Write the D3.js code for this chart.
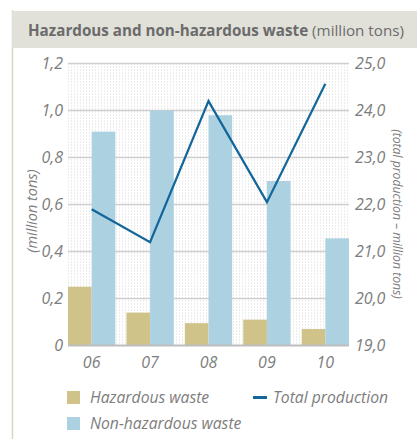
<!DOCTYPE html>
<title>waste chart</title>
<style>
body { margin: 0; background: #fff; }
text { font-family: "Open Sans", sans-serif; }
</style>
<svg width="417" height="439"></svg>
<script src="https://d3js.org/d3.v7.min.js"></script>
<script>
var years = ["06", "07", "08", "09", "10"];
var hazardous = [0.25, 0.14, 0.095, 0.11, 0.07];
var nonHazardous = [0.91, 1.0, 0.98, 0.70, 0.456];
var totalProduction = [21.9, 21.2, 24.2, 22.05, 24.57];
var leftTicks = [0, 0.2, 0.4, 0.6, 0.8, 1.0, 1.2];
var rightTicks = [19, 20, 21, 22, 23, 24, 25];

var svg = d3.select("svg"),
    margin = {top: 63.5, left: 68, right: 68, bottom: 93.5},
    width = 417 - margin.left - margin.right,
    height = 439 - margin.top - margin.bottom;

var grey = "#7d7d7d",
    hazColor = "#cfc389",
    nonColor = "#acd1e1",
    lineColor = "#12669a";

// header
svg.append("line")
    .attr("x1", 12.5).attr("x2", 12.5).attr("y1", 10).attr("y2", 439)
    .attr("stroke", "#d6d6c8").attr("stroke-width", 1.5);
svg.append("rect")
    .attr("x", 12).attr("y", 11).attr("width", 405).attr("height", 37)
    .attr("fill", "#e1e1da");
var title = svg.append("text")
    .attr("x", 28).attr("y", 36)
    .attr("font-size", 15.2)
    .attr("fill", "#6b6b6b");
title.append("tspan").attr("font-weight", "bold").text("Hazardous and non-hazardous waste");
title.append("tspan").text(" (million tons)");

var defs = svg.append("defs");
var pat = defs.append("pattern")
    .attr("id", "dots")
    .attr("patternUnits", "userSpaceOnUse")
    .attr("width", 3).attr("height", 3);
pat.append("rect").attr("width", 1).attr("height", 1).attr("fill", "#d9d9d9");

var g = svg.append("g").attr("transform", "translate(" + margin.left + "," + margin.top + ")");

var x = d3.scaleBand().domain(years).range([0, width]).paddingInner(0.19).paddingOuter(0);
var xSub = d3.scaleBand().domain(["h", "n"]).range([0, x.bandwidth()]);
var y = d3.scaleLinear().domain([0, 1.2]).range([height, 0]);
var y2 = d3.scaleLinear().domain([19, 25]).range([height, 0]);

g.append("rect")
    .attr("width", width).attr("height", height)
    .attr("fill", "url(#dots)");

// gridlines
g.append("g")
    .selectAll("line")
    .data(leftTicks.slice(1))
    .enter().append("line")
    .attr("x1", 0).attr("x2", width)
    .attr("y1", function(d) { return y(d); })
    .attr("y2", function(d) { return y(d); })
    .attr("stroke", "#cfcfcf")
    .attr("stroke-width", 1.5);

// bars
var groups = g.append("g")
    .selectAll("g")
    .data(years)
    .enter().append("g")
    .attr("transform", function(d) { return "translate(" + x(d) + ",0)"; });

groups.append("rect")
    .attr("x", xSub("h"))
    .attr("width", xSub.bandwidth())
    .attr("y", function(d, i) { return y(hazardous[i]); })
    .attr("height", function(d, i) { return height - y(hazardous[i]); })
    .attr("fill", hazColor);

groups.append("rect")
    .attr("x", xSub("n"))
    .attr("width", xSub.bandwidth())
    .attr("y", function(d, i) { return y(nonHazardous[i]); })
    .attr("height", function(d, i) { return height - y(nonHazardous[i]); })
    .attr("fill", nonColor);

// baseline
g.append("line")
    .attr("x1", 0).attr("x2", width)
    .attr("y1", height).attr("y2", height)
    .attr("stroke", "#bdbdbd").attr("stroke-width", 2);

// total production line
var line = d3.line()
    .x(function(d, i) { return x(years[i]) + x.bandwidth() / 2; })
    .y(function(d) { return y2(d); });

g.append("path")
    .datum(totalProduction)
    .attr("d", line)
    .attr("fill", "none")
    .attr("stroke", lineColor)
    .attr("stroke-width", 2.2);

// axes
var fmt = function(d) { return d3.format(".1f")(d).replace(".", ","); };

var yAxis = g.append("g")
    .call(d3.axisLeft(y).tickValues(leftTicks).tickSize(0).tickPadding(5)
      .tickFormat(function(d) { return d === 0 ? "0" : fmt(d); }));
yAxis.select(".domain").remove();

var y2Axis = g.append("g")
    .attr("transform", "translate(" + width + ",0)")
    .call(d3.axisRight(y2).tickValues(rightTicks).tickSize(0).tickPadding(6).tickFormat(fmt));
y2Axis.select(".domain").remove();

var xAxis = g.append("g")
    .attr("transform", "translate(0," + height + ")")
    .call(d3.axisBottom(x).tickSize(0).tickPadding(11));
xAxis.select(".domain").remove();

g.selectAll(".tick text")
    .attr("font-family", "'Open Sans', sans-serif")
    .attr("font-size", 16)
    .attr("font-style", "italic")
    .attr("fill", grey);

svg.append("text")
    .attr("transform", "translate(37,211) rotate(-90)")
    .attr("text-anchor", "middle")
    .attr("font-size", 14.5)
    .attr("font-style", "italic")
    .attr("fill", grey)
    .text("(million tons)");

svg.append("text")
    .attr("transform", "translate(393,214) rotate(90)")
    .attr("text-anchor", "middle")
    .attr("font-size", 12.2)
    .attr("font-style", "italic")
    .attr("fill", grey)
    .text("(total production \u2013 million tons)");

// legend
var legend = svg.append("g");
legend.append("rect").attr("x", 67).attr("y", 391).attr("width", 13).attr("height", 13).attr("fill", hazColor);
legend.append("rect").attr("x", 67).attr("y", 417).attr("width", 13).attr("height", 13).attr("fill", nonColor);
legend.append("line").attr("x1", 253).attr("x2", 267).attr("y1", 397.5).attr("y2", 397.5)
    .attr("stroke", lineColor).attr("stroke-width", 3);

var legendText = [
  {x: 90, y: 403, t: "Hazardous waste"},
  {x: 90, y: 429, t: "Non-hazardous waste"},
  {x: 273, y: 403, t: "Total production"}
];
legend.selectAll("text")
    .data(legendText)
    .enter().append("text")
    .attr("x", function(d) { return d.x; })
    .attr("y", function(d) { return d.y; })
    .attr("font-size", 15.7)
    .attr("font-style", "italic")
    .attr("fill", grey)
    .text(function(d) { return d.t; });
</script>
